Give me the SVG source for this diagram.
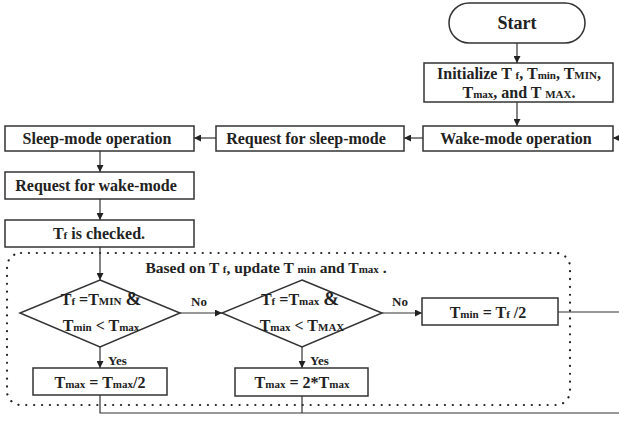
<svg xmlns="http://www.w3.org/2000/svg" width="619" height="421" viewBox="0 0 619 421">
<defs>
<marker id="ah" viewBox="0 0 10 10" refX="10" refY="5" markerWidth="7" markerHeight="7" markerUnits="userSpaceOnUse" orient="auto">
<path d="M0,0 L10,5 L0,10 z" fill="#222"/>
</marker>
<style>
.b{fill:#fff;stroke:#333;stroke-width:1.5}
.t{font-family:"Liberation Serif","Times New Roman",serif;font-weight:bold;font-size:16px;fill:#222;text-anchor:middle}
.s{font-size:11px}
.c{fill:none;stroke:#333;stroke-width:1.2}
.a{fill:none;stroke:#333;stroke-width:1.2;marker-end:url(#ah)}
.l{font-family:"Liberation Serif","Times New Roman",serif;font-weight:bold;font-size:13px;fill:#222}
</style>
</defs>
<rect width="619" height="421" fill="#fff"/>
<rect x="7" y="253" width="563" height="152" rx="14" fill="none" stroke="#222" stroke-width="2.2" stroke-linecap="round" stroke-dasharray="0.1 7.8"/>
<g id="connectors">
<line class="a" x1="517" y1="43" x2="517" y2="63"/>
<line class="a" x1="517" y1="102" x2="517" y2="126"/>
<line class="a" x1="619" y1="138" x2="613" y2="138"/>
<line class="a" x1="423" y1="138" x2="404" y2="138"/>
<line class="a" x1="216" y1="138" x2="194" y2="138"/>
<line class="a" x1="100" y1="151" x2="100" y2="172"/>
<line class="a" x1="100" y1="199" x2="100" y2="220"/>
<line class="a" x1="100" y1="247" x2="100" y2="280"/>
<line class="a" x1="180" y1="313" x2="222" y2="313"/>
<line class="a" x1="100" y1="347" x2="100" y2="368"/>
<line class="a" x1="382" y1="313" x2="422" y2="313"/>
<line class="a" x1="302" y1="347" x2="302" y2="368"/>
<line class="c" x1="558" y1="312" x2="619" y2="312"/>
<polyline class="c" points="100,395 100,413 619,413"/>
<line class="c" x1="302" y1="396" x2="302" y2="413"/>
<text class="l" x="191" y="306">No</text>
<text class="l" x="392" y="306">No</text>
<text class="l" x="108" y="365">Yes</text>
<text class="l" x="310" y="365">Yes</text>
</g>
<g id="start">
<rect class="b" x="449" y="3" width="136" height="40" rx="20"/>
<text class="t" x="517" y="29" style="font-size:18px">Start</text>
</g>
<g id="init">
<rect class="b" x="424" y="63" width="189" height="39"/>
<text class="t" x="519" y="79">Initialize T <tspan class="s">f</tspan>, T<tspan class="s">min</tspan>, T<tspan class="s">MIN</tspan>,</text>
<text class="t" x="519" y="98">T<tspan class="s">max</tspan>, and T <tspan class="s">MAX</tspan>.</text>
</g>
<g id="wake">
<rect class="b" x="423" y="126" width="190" height="25"/>
<text class="t" x="516" y="144">Wake-mode operation</text>
</g>
<g id="reqsleep">
<rect class="b" x="216" y="126" width="188" height="25"/>
<text class="t" x="306" y="144">Request for sleep-mode</text>
</g>
<g id="sleep">
<rect class="b" x="5" y="126" width="189" height="25"/>
<text class="t" x="97" y="144">Sleep-mode operation</text>
</g>
<g id="reqwake">
<rect class="b" x="5" y="172" width="189" height="27"/>
<text class="t" x="96" y="191">Request for wake-mode</text>
</g>
<g id="checked">
<rect class="b" x="5" y="220" width="189" height="27"/>
<text class="t" x="99" y="239">T<tspan class="s">f</tspan> is checked.</text>
</g>
<g id="based">
<text class="t" x="266" y="273" style="font-size:15.5px">Based on T <tspan class="s">f</tspan>, update T <tspan class="s">min</tspan> and T<tspan class="s">max</tspan> .</text>
</g>
<g id="dec1">
<polygon class="b" points="100,280 180,313 100,347 20,313"/>
<text class="t" x="101" y="305">T<tspan class="s">f</tspan> =T<tspan class="s">MIN</tspan> <tspan style="font-size:19px">&amp;</tspan></text>
<text class="t" x="101" y="331">T<tspan class="s">min</tspan> &lt; T<tspan class="s">max</tspan></text>
</g>
<g id="dec2">
<polygon class="b" points="302,280 382,313 302,347 222,313"/>
<text class="t" x="300" y="305">T<tspan class="s">f</tspan> =T<tspan class="s">max</tspan> <tspan style="font-size:19px">&amp;</tspan></text>
<text class="t" x="302" y="331">T<tspan class="s">max</tspan> &lt; T<tspan class="s">MAX</tspan></text>
</g>
<g id="tmin">
<rect class="b" x="422" y="298" width="136" height="27"/>
<text class="t" x="488" y="318">T<tspan class="s">min</tspan> = T<tspan class="s">f</tspan> /2</text>
</g>
<g id="half">
<rect class="b" x="33" y="368" width="134" height="27"/>
<text class="t" x="100" y="388">T<tspan class="s">max</tspan> = T<tspan class="s">max</tspan>/2</text>
</g>
<g id="double">
<rect class="b" x="235" y="368" width="133" height="28"/>
<text class="t" x="302" y="388">T<tspan class="s">max</tspan> = 2*T<tspan class="s">max</tspan></text>
</g>
</svg>
